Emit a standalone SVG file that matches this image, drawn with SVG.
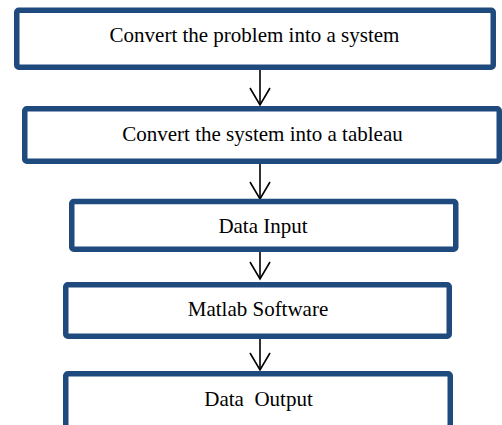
<svg xmlns="http://www.w3.org/2000/svg" width="502" height="425" viewBox="0 0 502 425">
<style>
.box{fill:#ffffff;stroke:#1F4A7E;stroke-width:5.5}
.lbl{font-family:"Liberation Serif","Times New Roman",serif;font-size:21px;fill:#000000;text-anchor:middle;white-space:pre}
.conn{stroke:#000000;stroke-width:1.6;fill:none}
</style>
<defs>
<marker id="arr" markerUnits="userSpaceOnUse" orient="auto" refX="0" refY="0" markerWidth="20" markerHeight="24" viewBox="-18 -11 20 22" overflow="visible">
<path d="M-17,-10 L0,0 L-17,10" fill="none" stroke="#000000" stroke-width="1.6"/>
</marker>
</defs>
<rect width="502" height="425" fill="#ffffff"/>
<g id="connectors">
<line class="conn" x1="260" y1="70" x2="260" y2="105" marker-end="url(#arr)"/>
<line class="conn" x1="260" y1="164" x2="260" y2="199" marker-end="url(#arr)"/>
<line class="conn" x1="260" y1="252" x2="260" y2="279" marker-end="url(#arr)"/>
<line class="conn" x1="260" y1="339" x2="260" y2="370" marker-end="url(#arr)"/>
</g>
<g id="node1">
<rect class="box" x="16.75" y="10.25" width="476.5" height="57" rx="2"/>
<text class="lbl" x="254.5" y="42.3">Convert the problem into a system</text>
</g>
<g id="node2">
<rect class="box" x="24.75" y="108.75" width="474.5" height="52.5" rx="2"/>
<text class="lbl" x="262.5" y="141">Convert the system into a tableau</text>
</g>
<g id="node3">
<rect class="box" x="71.75" y="201.5" width="384" height="47.75" rx="2"/>
<text class="lbl" x="263" y="233">Data Input</text>
</g>
<g id="node4">
<rect class="box" x="65.75" y="284.75" width="383.5" height="51.5" rx="2"/>
<text class="lbl" x="258" y="315.7">Matlab Software</text>
</g>
<g id="node5">
<rect class="box" x="65.75" y="373.75" width="384.5" height="56" rx="2"/>
<text class="lbl" x="258.5" y="406" xml:space="preserve">Data  Output</text>
</g>
</svg>
